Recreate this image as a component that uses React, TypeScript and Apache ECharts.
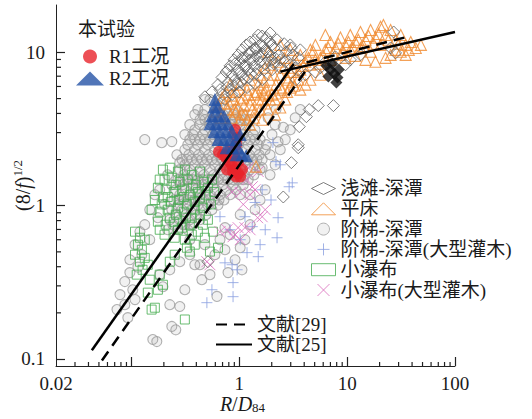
import React, { useEffect, useRef } from "react";
import * as echarts from "echarts";

const FONT = "'Liberation Serif', 'Noto Sans CJK SC', serif";

// Axis ranges, ticks and labels (raw values; plotted on log10 scale)
const xRange = [0.02, 100];
const yRange = [0.09, 20.4];
const xTickLabels = [0.02, 1, 10, 100];
const xMajorTicks = [0.1, 1, 10, 100];
const xMinorTicks = [0.03, 0.04, 0.05, 0.06, 0.07, 0.08, 0.09, 0.2, 0.3, 0.4, 0.5, 0.6, 0.7, 0.8, 0.9, 2, 3, 4, 5, 6, 7, 8, 9, 20, 30, 40, 50, 60, 70, 80, 90];
const yTickLabels = [0.1, 1, 10];
const yMajorTicks = [0.1, 1, 10];
const yMinorTicks = [0.2, 0.3, 0.4, 0.5, 0.6, 0.7, 0.8, 0.9, 2, 3, 4, 5, 6, 7, 8, 9];

// Series names
const nameR1 = "R1工况";
const nameR2 = "R2工况";
const nameRiffle = "浅滩-深潭";
const namePlane = "平床";
const nameStep = "阶梯-深潭";
const nameStepShrub = "阶梯-深潭(大型灌木)";
const nameCascade = "小瀑布";
const nameCascadeShrub = "小瀑布(大型灌木)";
const nameRef29 = "文献[29]";
const nameRef25 = "文献[25]";

// 阶梯-深潭 (light gray circles)
const stepPool: number[][] = [
  [0.133, 2.70], [0.191, 2.58], [0.237, 2.62], [0.264, 2.15], [0.281, 1.91], [0.413, 4.24], [0.387, 3.93], [0.480, 4.93], [0.348, 3.38], [0.313, 2.91],
  [0.217, 1.59], [0.237, 1.37], [0.183, 1.27], [0.165, 1.18], [0.203, 1.02], [0.148, 0.942], [0.176, 0.835], [0.133, 0.752], [0.120, 0.677], [0.148, 0.600],
  [0.108, 0.557], [0.125, 0.479], [0.0968, 0.444], [0.115, 0.397], [0.0968, 0.366], [0.0869, 0.320], [0.103, 0.283], [0.0784, 0.263], [0.0735, 0.210], [0.0869, 0.226],
  [0.0927, 0.186], [0.108, 0.244],
  [0.158, 0.134], [0.172, 0.130], [0.227, 0.226], [0.237, 0.163], [0.258, 0.155], [0.281, 0.220], [0.313, 0.283], [0.196, 0.296], [0.450, 0.329], [0.621, 0.256],
  [1.06, 0.382], [0.387, 0.412], [0.535, 0.355], [0.737, 0.516], [0.595, 0.479], [0.480, 0.557], [0.348, 0.479], [0.281, 0.431], [0.227, 0.382], [0.183, 0.355],
  [0.787, 0.366], [0.914, 0.444], [1.02, 0.532], [0.663, 0.600], [0.822, 0.647], [1.26, 0.752], [1.13, 0.600], [1.56, 1.09], [1.40, 0.942], [1.74, 1.27],
  [1.93, 1.59], [2.15, 1.85], [2.40, 2.32], [2.67, 2.70], [2.97, 3.13], [3.30, 3.75], [3.68, 4.24], [1.93, 2.15], [1.63, 1.77], [1.26, 1.18],
  [1.02, 0.874], [0.737, 0.719], [0.432, 0.412], [0.348, 0.600], [0.313, 0.752],
  [1.85, 3.75], [2.15, 3.38], [2.01, 2.91], [2.29, 2.61], [2.56, 3.25], [1.78, 2.50], [2.19, 4.24],
  [0.535, 4.93], [0.663, 4.93],
  [0.480, 4.24], [0.595, 4.24], [0.737, 4.24], [0.914, 4.24],
  [0.432, 3.64], [0.535, 3.64], [0.663, 3.64], [0.822, 3.64], [1.02, 3.64], [1.26, 3.64],
  [0.387, 3.13], [0.480, 3.13], [0.595, 3.13], [0.737, 3.13], [0.914, 3.13], [1.13, 3.13], [1.40, 3.13],
  [0.348, 2.70], [0.432, 2.70], [0.535, 2.70], [0.663, 2.70], [0.822, 2.70], [1.02, 2.70], [1.26, 2.70], [1.56, 2.70],
  [0.313, 2.32], [0.387, 2.32], [0.480, 2.32], [0.595, 2.32], [0.737, 2.32], [0.914, 2.32], [1.13, 2.32], [1.40, 2.32], [1.74, 2.32],
  [0.294, 2.00], [0.363, 2.00], [0.450, 2.00], [0.558, 2.00], [0.692, 2.00], [0.858, 2.00], [1.06, 2.00], [1.32, 2.00], [1.63, 2.00],
  [0.281, 1.72], [0.348, 1.72], [0.432, 1.72], [0.535, 1.72], [0.663, 1.72], [0.822, 1.72], [1.02, 1.72], [1.26, 1.72], [1.56, 1.72],
  [0.270, 1.48], [0.333, 1.48], [0.413, 1.48], [0.512, 1.48], [0.635, 1.48], [0.787, 1.48], [0.976, 1.48], [1.21, 1.48],
  [0.258, 1.27], [0.320, 1.27], [0.396, 1.27], [0.491, 1.27], [0.608, 1.27], [0.754, 1.27], [0.935, 1.27],
  [0.247, 1.09], [0.306, 1.09], [0.379, 1.09], [0.470, 1.09], [0.582, 1.09], [0.722, 1.09],
  [0.237, 0.942], [0.294, 0.942], [0.363, 0.942], [0.450, 0.942], [0.558, 0.942],
  [0.227, 0.810], [0.281, 0.810], [0.348, 0.810], [0.432, 0.810],
  [0.217, 0.697], [0.270, 0.697], [0.333, 0.697],
  [0.432, 3.38], [0.535, 3.38], [0.663, 3.38], [0.822, 3.38], [1.02, 3.38],
  [0.333, 2.50], [0.413, 2.50], [0.512, 2.50], [0.635, 2.50], [0.787, 2.50], [0.976, 2.50], [1.21, 2.50], [1.50, 2.50],
  [0.313, 1.85], [0.387, 1.85], [0.480, 1.85], [0.595, 1.85], [0.737, 1.85], [0.914, 1.85], [1.13, 1.85], [1.40, 1.85],
  [0.300, 1.37], [0.371, 1.37], [0.460, 1.37], [0.570, 1.37], [0.707, 1.37], [0.876, 1.37], [1.09, 1.37],
  [0.270, 1.01], [0.333, 1.01], [0.413, 1.01], [0.512, 1.01], [0.635, 1.01],
  [0.460, 3.93], [0.570, 3.93], [0.707, 3.93], [0.876, 3.93], [1.09, 3.93],
  [0.371, 2.91], [0.460, 2.91], [0.570, 2.91], [0.707, 2.91], [0.876, 2.91], [1.09, 2.91], [1.35, 2.91],
  [0.341, 2.15], [0.422, 2.15], [0.524, 2.15], [0.649, 2.15], [0.805, 2.15], [0.997, 2.15], [1.24, 2.15], [1.53, 2.15],
  [0.306, 1.59], [0.379, 1.59], [0.470, 1.59], [0.582, 1.59], [0.722, 1.59], [0.895, 1.59], [1.11, 1.59], [1.37, 1.59],
  [0.281, 1.18], [0.348, 1.18], [0.432, 1.18], [0.535, 1.18], [0.663, 1.18], [0.822, 1.18], [1.02, 1.18],
  [0.258, 0.874], [0.320, 0.874], [0.396, 0.874], [0.491, 0.874],
  [0.242, 0.752], [0.300, 0.752], [0.371, 0.752],
  [0.480, 3.64], [0.595, 3.64], [0.737, 3.64], [0.914, 3.64], [1.13, 3.64],
  [0.387, 2.70], [0.480, 2.70], [0.595, 2.70], [0.737, 2.70], [0.914, 2.70], [1.13, 2.70], [1.40, 2.70],
  [0.327, 2.00], [0.404, 2.00], [0.501, 2.00], [0.621, 2.00], [0.770, 2.00], [0.956, 2.00], [1.18, 2.00], [1.46, 2.00],
  [0.300, 1.48], [0.371, 1.48], [0.460, 1.48], [0.570, 1.48], [0.707, 1.48], [0.876, 1.48], [1.09, 1.48],
  [0.275, 1.09], [0.341, 1.09], [0.422, 1.09], [0.524, 1.09], [0.649, 1.09],
];

// 小瀑布 (green squares)
const cascade: number[][] = [
  [0.196, 1.72], [0.227, 1.77], [0.270, 1.67], [0.313, 1.72], [0.363, 1.59], [0.432, 1.67], [0.203, 1.48], [0.237, 1.52], [0.281, 1.43], [0.333, 1.48],
  [0.396, 1.37], [0.470, 1.43], [0.558, 1.48], [0.176, 1.31], [0.208, 1.27], [0.247, 1.23], [0.294, 1.27], [0.348, 1.18], [0.413, 1.23], [0.491, 1.18],
  [0.582, 1.23], [0.165, 1.09], [0.196, 1.13], [0.232, 1.06], [0.275, 1.09], [0.327, 1.02], [0.387, 1.06], [0.460, 0.970], [0.546, 1.02], [0.154, 0.942],
  [0.183, 0.914], [0.217, 0.942], [0.258, 0.874], [0.306, 0.914], [0.363, 0.835], [0.432, 0.874], [0.512, 0.810], [0.176, 0.786], [0.208, 0.752], [0.247, 0.786],
  [0.294, 0.719], [0.348, 0.752], [0.413, 0.677], [0.203, 0.647], [0.252, 0.618], [0.313, 0.600], [0.387, 0.557], [0.480, 0.618], [0.570, 0.677], [0.635, 0.532],
  [0.535, 0.502], [0.108, 0.677], [0.120, 0.618], [0.115, 0.557], [0.125, 0.516], [0.108, 0.479], [0.120, 0.431], [0.133, 0.457], [0.127, 0.382], [0.112, 0.355],
  [0.142, 0.412], [0.148, 0.329], [0.176, 0.283], [0.154, 0.210], [0.165, 0.216], [0.183, 0.355], [0.313, 0.181], [0.142, 0.271], [0.196, 0.305], [0.227, 0.431],
  [0.252, 0.479], [0.327, 0.532], [0.348, 0.502],
  [0.183, 1.48], [0.258, 1.37], [0.371, 1.31], [0.512, 1.31], [0.217, 1.14], [0.306, 1.14], [0.432, 1.13], [0.191, 1.02], [0.270, 0.970], [0.387, 0.942],
  [0.227, 0.835], [0.320, 0.835], [0.460, 0.752], [0.270, 0.697], [0.363, 0.647], [0.183, 0.697], [0.133, 0.600],
];

// 阶梯-深潭(大型灌木) (blue plus)
const stepShrub: number[][] = [
  [2.40, 1.85], [3.10, 1.41], [2.29, 0.835], [2.24, 0.618], [1.50, 0.465], [0.858, 0.412], [0.737, 0.424], [0.876, 0.315], [0.876, 0.255], [1.32, 0.730],
  [0.501, 0.233], [0.956, 0.382], [1.18, 0.494], [0.663, 0.848], [0.822, 0.697], [2.19, 1.94], [2.05, 2.58], [2.90, 1.33], [1.97, 1.09], [1.63, 1.27],
  [1.40, 1.05], [1.13, 0.848], [1.74, 0.697], [1.02, 0.600], [0.558, 0.283], [1.56, 0.557],
];

// 小瀑布(大型灌木) (pink x)
const cascadeShrub: number[][] = [
  [1.18, 1.48], [1.32, 1.33], [1.02, 1.22], [1.63, 0.848], [1.48, 0.835], [1.26, 0.697], [0.914, 0.647], [0.770, 0.697], [1.02, 0.600], [0.876, 0.628],
  [0.535, 0.412], [0.501, 0.431], [1.09, 1.02], [0.858, 1.23], [1.26, 1.18], [1.40, 1.27], [1.50, 1.67], [1.13, 0.719], [0.976, 0.719], [1.74, 0.942],
  [0.663, 0.677], [1.21, 1.77],
];

// 平床 (orange triangles)
const planeBed: number[][] = [
  [0.635, 4.57], [0.692, 5.06], [0.754, 5.53], [0.822, 6.17], [0.787, 4.24], [0.876, 4.93], [0.935, 5.53], [1.02, 6.17], [0.976, 4.37], [1.09, 5.06],
  [1.18, 5.72], [1.26, 6.64], [1.13, 3.93], [1.26, 4.57], [1.40, 5.31], [1.50, 6.17], [1.56, 7.16], [1.40, 4.11], [1.63, 4.93], [1.78, 5.72],
  [1.93, 6.64], [1.74, 7.94], [2.01, 5.31], [2.19, 6.17], [2.40, 7.16], [2.61, 7.94], [2.29, 8.69], [1.85, 4.24], [2.15, 4.93], [2.50, 5.72],
  [2.84, 6.64], [2.97, 7.45], [3.30, 8.95], [3.68, 9.64], [4.10, 8.69], [4.56, 10.4], [5.08, 11.2], [5.65, 9.22], [6.29, 10.4], [7.00, 11.7],
  [7.79, 10.7], [8.67, 12.5], [9.65, 11.2], [10.7, 13.0], [11.9, 11.7], [13.3, 13.6], [14.8, 12.1], [16.5, 14.0], [18.3, 12.5], [20.4, 14.7],
  [21.7, 15.1], [22.7, 13.0], [25.3, 14.0], [28.1, 12.1], [31.4, 13.0], [34.9, 11.2], [38.9, 11.7], [43.3, 10.7], [48.3, 11.2], [3.68, 7.71],
  [4.56, 8.31], [5.65, 7.16], [7.00, 8.95], [8.67, 9.64], [10.7, 10.4], [13.3, 10.7], [16.5, 10.1], [20.4, 11.2], [25.3, 9.64], [31.4, 10.1],
  [2.97, 5.90], [3.52, 6.64], [4.10, 6.17], [2.67, 4.93], [1.63, 3.64], [1.26, 3.38], [1.02, 3.64], [0.858, 3.75], [1.43, 1.80], [2.15, 3.93],
  [2.97, 10.4], [2.40, 11.2], [1.85, 10.1], [5.08, 8.95], [6.29, 13.0], [4.56, 6.64], [9.65, 9.22], [11.9, 9.50], [14.8, 8.95], [18.3, 8.69],
  [22.7, 9.22], [28.1, 10.4], [34.9, 9.64],
  [0.722, 4.64], [0.858, 5.23], [1.02, 4.93], [1.21, 5.31], [0.935, 4.11], [1.32, 4.24], [1.50, 4.93], [1.70, 6.44], [1.85, 5.23], [2.10, 7.16],
  [2.40, 5.90], [2.72, 6.87], [3.10, 7.94], [3.52, 7.45], [3.94, 8.18], [4.37, 9.22], [4.86, 10.1], [5.41, 8.44], [6.02, 9.50], [6.70, 10.7],
  [7.46, 9.79], [8.30, 11.4], [9.24, 10.1], [10.3, 11.7], [11.4, 10.7], [12.7, 12.1], [14.2, 11.0], [15.8, 12.8], [17.6, 11.4], [19.6, 13.2],
  [24.2, 12.1], [30.1, 11.4], [37.3, 10.4], [1.93, 8.31], [1.63, 5.90], [1.11, 4.50], [2.61, 9.22], [3.10, 6.44],
  [0.608, 4.11], [0.678, 3.75], [0.805, 4.64], [0.895, 4.24], [1.06, 3.99], [1.18, 3.64], [1.37, 3.75], [1.56, 4.24], [1.74, 4.64], [1.93, 4.93],
  [2.19, 5.40], [2.40, 4.37], [2.78, 5.53], [3.23, 6.07], [3.68, 5.72], [1.46, 5.53], [1.29, 4.93], [1.67, 5.40],
];

// 浅滩-深潭 (gray diamonds)
const riffle: number[][] = [
  [0.480, 5.14], [0.558, 5.53], [0.635, 6.17], [0.692, 6.87], [0.754, 7.45], [0.822, 8.18], [0.895, 8.95], [0.976, 9.64], [1.06, 10.4], [1.16, 11.2],
  [1.26, 11.7], [1.40, 12.1], [1.56, 11.2], [1.74, 10.4], [1.93, 9.64], [2.15, 9.22], [2.40, 8.95], [2.67, 8.69], [2.97, 8.31], [3.30, 7.94],
  [1.02, 8.69], [1.13, 9.36], [1.26, 10.1], [1.40, 10.7], [0.858, 7.16], [0.976, 7.71], [1.11, 8.18], [1.26, 8.95], [1.43, 9.50], [1.63, 9.79],
  [1.85, 8.95], [2.10, 8.44], [2.40, 7.94], [0.787, 6.37], [0.914, 6.64], [1.06, 7.16], [1.21, 7.71], [1.37, 8.18], [1.56, 8.69], [0.663, 5.72],
  [0.770, 5.90], [0.895, 6.07], [1.04, 6.37], [1.21, 6.87], [1.43, 7.27], [1.70, 7.71], [2.01, 7.71], [0.737, 4.93], [0.858, 5.31], [0.997, 5.53],
  [1.18, 5.90], [1.40, 6.26], [1.63, 6.64], [1.50, 13.0], [1.78, 12.5], [2.01, 11.2], [2.97, 11.2], [3.68, 10.4], [3.37, 6.64], [4.10, 7.16],
  [5.08, 7.45], [5.65, 7.94], [6.29, 8.69], [7.79, 9.36], [10.7, 8.95], [13.3, 9.64], [9.65, 8.31], [27.0, 13.6], [28.1, 9.93], [25.3, 10.7],
  [7.46, 4.50], [5.40, 4.50], [4.45, 4.24], [4.19, 3.81], [3.60, 3.28], [3.52, 2.50], [3.52, 2.39], [3.04, 1.91], [2.56, 1.14], [0.512, 0.431],
  [0.707, 5.31], [0.822, 5.72], [0.956, 6.26], [1.11, 6.75], [1.29, 7.27], [1.50, 7.71], [1.74, 8.44], [2.01, 8.95], [2.34, 9.64], [2.72, 10.1],
  [3.16, 9.64], [0.787, 7.71], [0.914, 8.44], [1.06, 9.22], [1.24, 9.79], [1.43, 10.4], [1.67, 11.0], [1.93, 11.7], [2.24, 12.1], [2.61, 11.4],
  [3.04, 10.7], [3.52, 9.22], [1.35, 8.95], [1.56, 9.36], [1.82, 10.1], [2.10, 10.7], [1.16, 8.18], [0.997, 7.27], [1.63, 12.8], [1.93, 13.4],
];

// dark overlapping diamonds
const riffleDark: number[][] = [
  [6.42, 8.18], [7.00, 7.71], [7.62, 7.27], [8.14, 6.87], [7.30, 8.44], [8.35, 7.71], [6.70, 6.98], [7.95, 6.37],
];

// 本试验 R1 (red circles)
const r1: number[][] = [
  [0.649, 2.25], [0.707, 2.15], [0.754, 2.06], [0.805, 1.94], [0.858, 1.82], [0.914, 1.72], [0.976, 1.62], [1.02, 1.55], [0.935, 1.55], [1.06, 1.72],
  [0.976, 1.94], [0.895, 2.15], [0.935, 2.50], [0.956, 2.77], [0.914, 3.13], [0.822, 2.32], [0.770, 1.72], [0.876, 1.67],
];

// 本试验 R2 (blue triangles)
const r2: number[][] = [
  [0.595, 4.93], [0.582, 4.41], [0.635, 4.41], [0.558, 3.87], [0.635, 3.87], [0.722, 3.87], [0.535, 3.43], [0.608, 3.43], [0.692, 3.43], [0.787, 3.43],
  [0.582, 3.04], [0.663, 3.04], [0.754, 3.04], [0.858, 3.04], [0.635, 2.70], [0.722, 2.70], [0.822, 2.70], [0.935, 2.70], [0.754, 2.39], [0.858, 2.39],
  [0.976, 2.39], [0.935, 2.15], [1.06, 2.15], [1.16, 2.12], [1.02, 2.91],
];

// reference curves
const ref29Steep: number[][] = [[0.0533, 0.0977], [4.4, 8.1]];
const ref29Flat: number[][] = [[4.2, 8.6], [38.7, 12.8]];
const ref25Steep: number[][] = [[0.043, 0.114], [3.2, 8.4]];
const ref25Flat: number[][] = [[2.4, 7.5], [100, 13.6]];

const PLUS = "path://M5 0L5 10M0 5L10 5";
const CROSS = "path://M0 0L10 10M10 0L0 10";

const L = (v: number) => Math.log10(v);
const toLog = (d: number[][]) => d.map(([x, y]) => [L(x), L(y)]);
const fmt = (v: number) => String(+Math.pow(10, v).toPrecision(3));

function hollow(name: string, data: number[][], symbol: string, size: number, color: string, width = 1, fill = "rgba(0,0,0,0)") {
  return {
    type: "scatter",
    name,
    data: toLog(data),
    symbol,
    symbolSize: size,
    silent: true,
    itemStyle: { color: fill, borderColor: color, borderWidth: width },
  };
}
function filled(name: string, data: number[][], symbol: string, size: number, color: string) {
  return {
    type: "scatter",
    name,
    data: toLog(data),
    symbol,
    symbolSize: size,
    silent: true,
    itemStyle: { color },
  };
}
function curve(name: string, data: number[][], dashed: boolean) {
  return {
    type: "line",
    name,
    data: toLog(data),
    symbol: "none",
    silent: true,
    itemStyle: { color: "#000" },
    lineStyle: { color: "#000", width: 2.5, type: dashed ? [11, 7] : "solid" },
    z: 5,
  };
}

// Inward minor tick marks drawn through the axes' coordinate system
function tickSeries(values: number[], horizontal: boolean, len: number) {
  const yBase = L(yRange[0]);
  const xBase = L(xRange[0]);
  return {
    type: "custom",
    clip: false,
    z: 10,
    data: values.map((v) => (horizontal ? [L(v), yBase] : [xBase, L(v)])),
    renderItem: (_params: any, api: any) => {
      const p = api.coord([api.value(0), api.value(1)]);
      return horizontal
        ? { type: "line", shape: { x1: p[0], y1: p[1], x2: p[0], y2: p[1] - len }, style: { stroke: "#222", lineWidth: 1.2 } }
        : { type: "line", shape: { x1: p[0], y1: p[1], x2: p[0] + len, y2: p[1] }, style: { stroke: "#222", lineWidth: 1.2 } };
    },
  };
}

const baseText = { fontFamily: FONT, color: "#1a1a1a" };

const option: any = {
  animation: false,
  backgroundColor: "#fff",
  textStyle: { fontFamily: FONT },
  title: {
    text: "本试验",
    left: 73,
    top: 15,
    textStyle: { ...baseText, fontSize: 19, fontWeight: "normal" },
  },
  grid: { left: 56, top: 5, width: 399, height: 361, outerBoundsMode: "none" },
  xAxis: {
    type: "value",
    min: L(xRange[0]),
    max: L(xRange[1]),
    position: "bottom",
    axisLine: { show: true, onZero: false, lineStyle: { color: "#222", width: 1 } },
    axisTick: { show: true, inside: true, length: 9, customValues: xMajorTicks.map(L), lineStyle: { color: "#222", width: 1.2 } },
    axisLabel: { show: true, customValues: xTickLabels.map(L), formatter: fmt, margin: 8, fontSize: 19, lineHeight: 19, ...baseText },
    splitLine: { show: false },
    name: "{i|R}{a|/}{i|D}{s|84}",
    nameLocation: "middle",
    nameGap: 28,
    nameMoveOverlap: false,
    nameTextStyle: {
      padding: [0, 26, 0, 0],
      rich: {
        i: { ...baseText, fontSize: 20, fontStyle: "italic", lineHeight: 20 },
        a: { ...baseText, fontSize: 20, lineHeight: 20 },
        s: { ...baseText, fontSize: 13, lineHeight: 12, verticalAlign: "bottom" },
      },
    },
  },
  yAxis: {
    type: "value",
    min: L(yRange[0]),
    max: L(yRange[1]),
    position: "left",
    axisLine: { show: true, onZero: false, lineStyle: { color: "#222", width: 1 } },
    axisTick: { show: true, inside: true, length: 9, customValues: yMajorTicks.map(L), lineStyle: { color: "#222", width: 1.2 } },
    axisLabel: { show: true, customValues: yTickLabels.map(L), formatter: fmt, margin: 11, fontSize: 19, ...baseText },
    splitLine: { show: false },
    name: "{a|(8/}{i|f}{a|)}{s|1/2}",
    nameLocation: "middle",
    nameGap: 21,
    nameRotate: 90,
    nameMoveOverlap: false,
    nameTextStyle: {
      rich: {
        i: { ...baseText, fontSize: 20, fontStyle: "italic", lineHeight: 24 },
        a: { ...baseText, fontSize: 20, lineHeight: 24 },
        s: { ...baseText, fontSize: 13, lineHeight: 13, verticalAlign: "top" },
      },
    },
  },
  legend: [
    {
      data: [nameR1, nameR2],
      orient: "vertical",
      left: 71,
      top: 42,
      itemWidth: 28,
      itemHeight: 14,
      itemGap: 3,
      selectedMode: false,
      textStyle: { ...baseText, fontSize: 19, lineHeight: 19 },
    },
    {
      data: [nameRiffle, namePlane, nameStep, nameStepShrub, nameCascade, nameCascadeShrub],
      orient: "vertical",
      left: 306,
      top: 174,
      itemWidth: 24,
      itemHeight: 12,
      itemGap: 1.3,
      selectedMode: false,
      itemStyle: { borderWidth: 1 },
      textStyle: { ...baseText, fontSize: 19, lineHeight: 19 },
    },
    {
      data: [nameRef29, nameRef25],
      orient: "vertical",
      left: 210,
      top: 310,
      itemWidth: 36,
      itemHeight: 14,
      itemGap: 1,
      selectedMode: false,
      itemStyle: { opacity: 0, color: "rgba(0,0,0,0)", borderWidth: 0 },
      textStyle: { ...baseText, fontSize: 19, lineHeight: 19 },
    },
  ],
  series: [
    hollow(nameStep, stepPool, "circle", 10, "#9d9d9d", 1.1, "rgba(150,150,150,0.16)"),
    hollow(nameCascade, cascade, "rect", 9, "#45ab4f"),
    hollow(nameStepShrub, stepShrub, PLUS, 11, "#8a9fe0"),
    hollow(nameCascadeShrub, cascadeShrub, CROSS, 11, "#d96cbd"),
    hollow(namePlane, planeBed, "triangle", 11, "#f08a2e", 1.1),
    hollow(nameRiffle, riffle, "diamond", 12, "#5e5e5e"),
    filled("dark", riffleDark, "diamond", 12, "#111"),
    filled(nameR1, r1, "circle", 12, "#e8232b"),
    filled(nameR2, r2, "triangle", 13, "#2453a6"),
    curve(nameRef29, ref29Steep, true),
    curve(nameRef29, ref29Flat, true),
    curve(nameRef25, ref25Steep, false),
    curve(nameRef25, ref25Flat, false),
    tickSeries(xMinorTicks, true, 4),
    tickSeries(yMinorTicks, false, 5),
  ],
};

export default function App() {
  const ref = useRef<HTMLDivElement>(null);
  useEffect(() => {
    document.body.style.margin = "0";
    const chart = echarts.init(ref.current!, null, { renderer: "svg" });
    chart.setOption(option);
    return () => chart.dispose();
  }, []);
  return (
    <div
      ref={ref}
      style={{ position: "absolute", left: 0, top: 0, width: 532, height: 419 }}
    />
  );
}
